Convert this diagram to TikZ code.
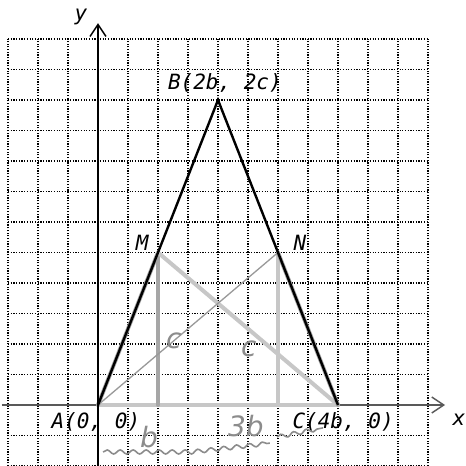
\documentclass[tikz,border=0pt]{standalone}
\usepackage{fontspec}
\newfontfamily\labfont{DejaVu Sans Mono}
\newfontfamily\handfont{DejaVu Sans}
\usetikzlibrary{arrows.meta,decorations.pathmorphing}
\begin{document}
\begin{tikzpicture}[x=30pt,y=30.5pt,
  gridline/.style={black, line width=1.3pt, dash pattern=on 1.2pt off 1.5pt},
  yaxis/.style={black, line width=2.2pt, -{Straight Barb[length=12pt,width=16pt,line width=1.5pt]}},
  xaxis/.style={black!65, line width=2.4pt, -{Straight Barb[length=12pt,width=16pt,line width=1.5pt]}},
  pencil/.style={black!35, line width=4pt, line cap=round},
  pencillight/.style={black!22, line width=4pt, line cap=round},
  pencilthin/.style={black!40, line width=1.3pt},
  sideline/.style={black, line width=2.4pt},
  lab/.style={font=\labfont\itshape\fontsize{21}{24}\selectfont, inner sep=0pt},
  hand/.style={black!45, font=\handfont\itshape\fontsize{28}{30}\selectfont, inner sep=0pt},
  squiggle/.style={black!45, line width=1.6pt, decorate, decoration={snake, amplitude=2pt, segment length=13pt}}]
\useasboundingbox (-98/30, -61/30.5) rectangle (368/30, 405/30.5);
\fill[white] (-98/30, -61/30.5) rectangle (368/30, 405/30.5);
% grid
\foreach \i in {-3,...,11} \draw[gridline] (\i,-2) -- (\i,12);
\foreach \j in {-2,...,12} \draw[gridline] (-3,\j) -- (11,\j);
% points
\coordinate (A) at (0,0);
\coordinate (B) at (4,10);
\coordinate (C) at (8,0);
\coordinate (M) at (2,5);
\coordinate (N) at (6,5);
\coordinate (Mf) at (2,0);
\coordinate (Nf) at (6,0);
\coordinate (ylo) at (0,-2);
\coordinate (ytip) at (0,12.52);
\coordinate (xlo) at (-3.2,0);
\coordinate (xtip) at (11.57,0);
% axes
\draw[xaxis] (xlo) -- (xtip);
% pencil overlays
\draw[pencillight] (A) -- (C);
\draw[pencil] (A) -- (M);
\draw[pencil] (M) -- (Mf);
\draw[pencillight] (N) -- (Nf);
\draw[pencillight] (M) -- (C);
\draw[pencil] (N) -- (C);
\draw[pencilthin] (A) -- (N);
% triangle sides
\draw[sideline] (A) -- (B) -- (C);
\draw[yaxis] (ylo) -- (ytip);
% labels
\node[lab] (Blab) at (4.23,10.56) {B(2b, 2c)};
\node[lab] (Mlab) at (1.47,5.31) {M};
\node[lab] (Nlab) at (6.73,5.31) {N};
\node[lab] (Alab) at (-0.07,-0.56) {A(0, 0)};
\node[lab] (Clab) at (8.17,-0.56) {C(4b, 0)};
\node[lab] (ylab) at (-0.57,12.72) {y};
\node[lab] (xlab) at (12.03,-0.49) {x};
% handwritten notes
\node[hand] (c1) at (2.53,2.10) {c};
\node[hand] (c2) at (5.03,1.84) {c};
\node[hand] (b1) at (1.7,-1.05) {b};
\node[hand] (b3) at (4.93,-0.7) {3b};
\coordinate (s1) at (0.17,-1.54);
\coordinate (s2) at (3.07,-1.54);
\coordinate (s3) at (5.73,-1.25);
\coordinate (s4) at (5.97,-1.05);
\coordinate (s5) at (7.5,-0.75);
\draw[squiggle] (s1) -- (s2) -- (s3);
\draw[squiggle] (s4) -- (s5);
\end{tikzpicture}
\end{document}
